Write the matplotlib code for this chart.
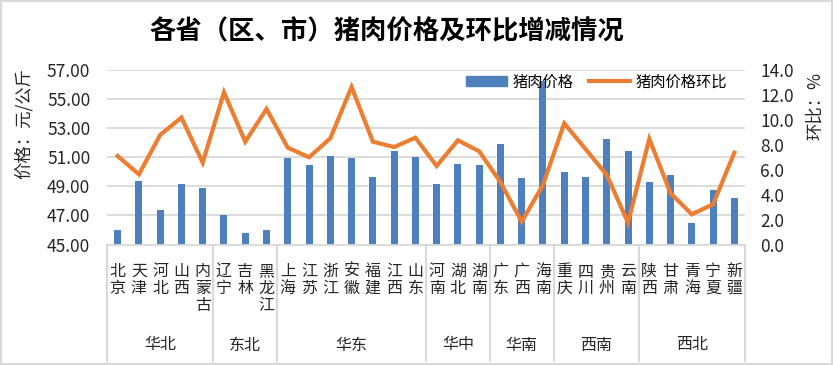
import matplotlib
matplotlib.use("Agg")
import matplotlib.pyplot as plt
from matplotlib.patches import Rectangle
from matplotlib.lines import Line2D
import matplotlib.transforms as mtransforms

plt.rcParams['font.family'] = ['Noto Sans CJK SC', 'DejaVu Sans']

provinces = ["北京", "天津", "河北", "山西", "内蒙古",
             "辽宁", "吉林", "黑龙江",
             "上海", "江苏", "浙江", "安徽", "福建", "江西", "山东",
             "河南", "湖北", "湖南",
             "广东", "广西", "海南",
             "重庆", "四川", "贵州", "云南",
             "陕西", "甘肃", "青海", "宁夏", "新疆"]
groups = ["华北", "东北", "华东", "华中", "华南", "西南", "西北"]
group_sizes = [5, 3, 7, 3, 3, 4, 5]
prices = [46.00, 49.36, 47.37, 49.16, 48.88,
          47.03, 45.79, 46.00,
          50.94, 50.46, 51.08, 50.94, 49.64, 51.42, 51.01,
          49.16, 50.53, 50.46,
          51.90, 49.57, 56.25,
          49.98, 49.64, 52.25, 51.44,
          49.29, 49.77, 46.48, 48.74, 48.19]
mom = [7.10, 5.63, 8.79, 10.18, 6.57,
       12.21, 8.25, 10.87,
       7.77, 7.00, 8.52, 12.64, 8.25, 7.82, 8.57,
       6.30, 8.36, 7.48,
       5.00, 1.83, 4.78,
       9.72, 7.66, 5.58, 1.75,
       8.47, 4.11, 2.42, 3.23, 7.37]
left_ticks = [45, 47, 49, 51, 53, 55, 57]
right_ticks = [0, 2, 4, 6, 8, 10, 12, 14]

W, H = 833, 365
fig = plt.figure(figsize=(W / 100, H / 100), dpi=100)

# outer border
fig.patches.append(Rectangle((0.0015, 0.003), 0.997, 0.994, transform=fig.transFigure,
                             fill=False, edgecolor='#d9d9d9', linewidth=1.5))

x0, x1, ytop, ybot = 107, 745, 70, 244.5
ax = fig.add_axes([x0 / W, 1 - ybot / H, (x1 - x0) / W, (ybot - ytop) / H])
n = len(provinces)
xs = list(range(n))

ax.bar(xs, [p - left_ticks[0] for p in prices], bottom=left_ticks[0], width=0.33,
       color='#4E80BD', zorder=2)
ax.set_xlim(-0.5, n - 0.5)
ax.set_ylim(left_ticks[0], left_ticks[-1])
ax.set_yticks(left_ticks)
ax.set_yticklabels([f"{v:.2f}" for v in left_ticks])
ax.set_xticks([])
ax.grid(axis='y', color='#d9d9d9', linewidth=1.3)
ax.set_axisbelow(True)
for s in ['top', 'right', 'left']:
    ax.spines[s].set_visible(False)
ax.spines['bottom'].set_color('#d9d9d9')
ax.spines['bottom'].set_linewidth(1.3)
ax.tick_params(axis='y', length=0, pad=12, labelsize=12.5, labelcolor='#262626')

ax2 = ax.twinx()
ax2.plot(xs, mom, color='#ED7D31', linewidth=3.0, solid_joinstyle='miter', zorder=3)
ax2.set_ylim(right_ticks[0], right_ticks[-1])
ax2.set_yticks(right_ticks)
ax2.set_yticklabels([f"{v:.1f}" for v in right_ticks])
for s in ['top', 'right', 'left', 'bottom']:
    ax2.spines[s].set_visible(False)
ax2.tick_params(axis='y', length=0, pad=11, labelsize=12.5, labelcolor='#262626')

# category labels (vertical stacked)
trans = mtransforms.blended_transform_factory(ax.transData, ax.transAxes)
ph = ybot - ytop
for i, name in enumerate(provinces):
    ax.text(i, (ybot - 263) / ph, "\n".join(name), transform=trans, ha='center', va='top',
            fontsize=11.5, color='#262626', linespacing=1.0)

# group separators and labels
bounds = [0]
for g in group_sizes:
    bounds.append(bounds[-1] + g)
ybottom_line = (ybot - 361) / ph
for b in bounds:
    ax.plot([b - 0.5, b - 0.5], [0, ybottom_line], transform=trans, color='#d9d9d9',
            linewidth=1.5, clip_on=False)
for g, a, b in zip(groups, bounds[:-1], bounds[1:]):
    ax.text((a + b - 1) / 2, (ybot - 345) / ph, g, transform=trans, ha='center', va='center',
            fontsize=11.5, color='#262626')

# axis titles
fig.text(24 / W, 1 - 124 / H, "价格：元/公斤", rotation=90, ha='center', va='center',
         fontsize=12.5, color='#262626')
fig.text(815 / W, 1 - 106 / H, "环比：%", rotation=90, ha='center', va='center',
         fontsize=12.5, color='#262626')

# title
fig.text(387 / W, 1 - 32 / H, "各省（区、市）猪肉价格及环比增减情况", ha='center', va='center',
         fontsize=19, fontweight='bold', color='black')

# legend
handles = [Rectangle((0, 0), 1, 1, color='#4E80BD'),
           Line2D([0], [0], color='#ED7D31', linewidth=3.0)]
fig.legend(handles, ["猪肉价格", "猪肉价格环比"], loc='center left',
           bbox_to_anchor=(466 / W, 1 - 82 / H), ncol=2, frameon=False,
           fontsize=11, handlelength=2.7, handleheight=0.6, handletextpad=0.35,
           columnspacing=1.0, borderpad=0, borderaxespad=0)

fig.savefig("out.png", dpi=100)
